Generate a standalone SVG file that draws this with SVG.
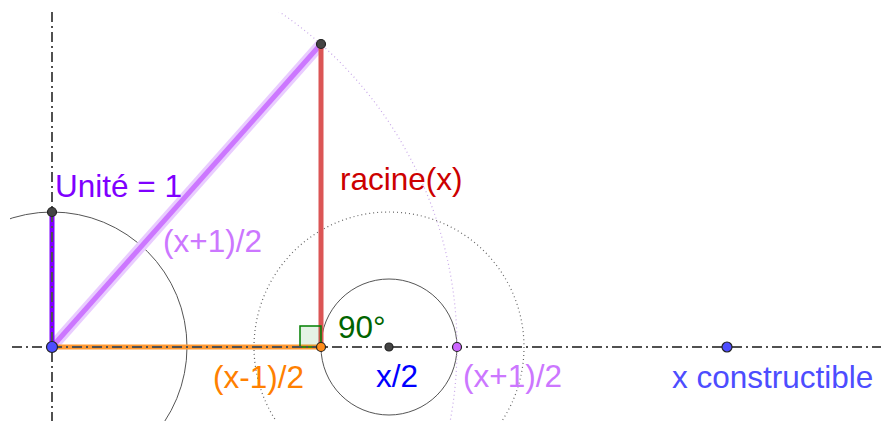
<svg xmlns="http://www.w3.org/2000/svg" width="881" height="421" viewBox="0 0 881 421">
<defs>
<style>
.axis{stroke:#505050;stroke-width:2;stroke-dasharray:10 4 2 4;fill:none}
.circ{fill:none;stroke:#555;stroke-width:1}
.dot{fill:none;stroke:#666;stroke-width:1.2;stroke-dasharray:1 3}
.pdot{fill:none;stroke:#C8A8E8;stroke-width:1.2;stroke-dasharray:1 3}
.pt{stroke:#222;stroke-width:1.2}
text{font-family:"Liberation Sans",Arial,sans-serif;font-size:31.5px}
</style>
<clipPath id="area"><rect x="10" y="12" width="871" height="409"/></clipPath>
</defs>
<rect width="881" height="421" fill="#fff"/>
<g id="connectors" clip-path="url(#area)">
<circle class="circ" cx="52" cy="347" r="135"/>
<circle class="circ" cx="389" cy="347" r="68"/>
<circle class="dot" cx="389" cy="347" r="135"/>
<circle class="pdot" cx="52" cy="347" r="405"/>
<line x1="52" y1="347" x2="321" y2="44" stroke="#E9CCFF" stroke-width="11"/>
<line x1="52" y1="347" x2="321" y2="44" stroke="#CC77FF" stroke-width="5"/>
<line x1="321" y1="347" x2="321" y2="44" stroke="#DB5555" stroke-width="5"/>
<line x1="52" y1="347" x2="52" y2="212" stroke="#7F00FF" stroke-width="5"/>
<line x1="52" y1="347" x2="321" y2="347" stroke="#FF9933" stroke-width="5"/>
<rect x="300" y="326" width="21" height="21" fill="#007F00" fill-opacity="0.1" stroke="#007F00" stroke-width="1.5"/>
<line class="axis" x1="12" y1="347" x2="881" y2="347"/>
<line class="axis" x1="52" y1="12" x2="52" y2="421"/>
</g>
<g id="pO"><circle class="pt" cx="52" cy="347" r="5.5" fill="#4D4DFF"/></g>
<g id="pUnit"><circle class="pt" cx="52" cy="212" r="4.5" fill="#444"/></g>
<g id="pTop"><circle class="pt" cx="321" cy="44" r="4.5" fill="#444"/></g>
<g id="pFoot"><circle class="pt" cx="321" cy="347" r="4.5" fill="#FF8C1A"/></g>
<g id="pHalf"><circle class="pt" cx="389" cy="347" r="4" fill="#444"/></g>
<g id="pPlus"><circle class="pt" cx="457" cy="347" r="4.5" fill="#CC66FF"/></g>
<g id="pX"><circle class="pt" cx="727" cy="347" r="5" fill="#4D4DFF"/></g>
<g id="labels">
<text x="55" y="197" fill="#7F00FF">Unité = 1</text>
<text x="340" y="190" fill="#CC0000">racine(x)</text>
<text x="163" y="252" fill="#CC77FF">(x+1)/2</text>
<text x="338" y="338" fill="#006400">90°</text>
<text x="213" y="388" fill="#FF8000">(x-1)/2</text>
<text x="376" y="387" fill="#0000FF">x/2</text>
<text x="463" y="387" fill="#CC77FF">(x+1)/2</text>
<text x="672" y="388" fill="#4D4DFF">x constructible</text>
</g>
</svg>
